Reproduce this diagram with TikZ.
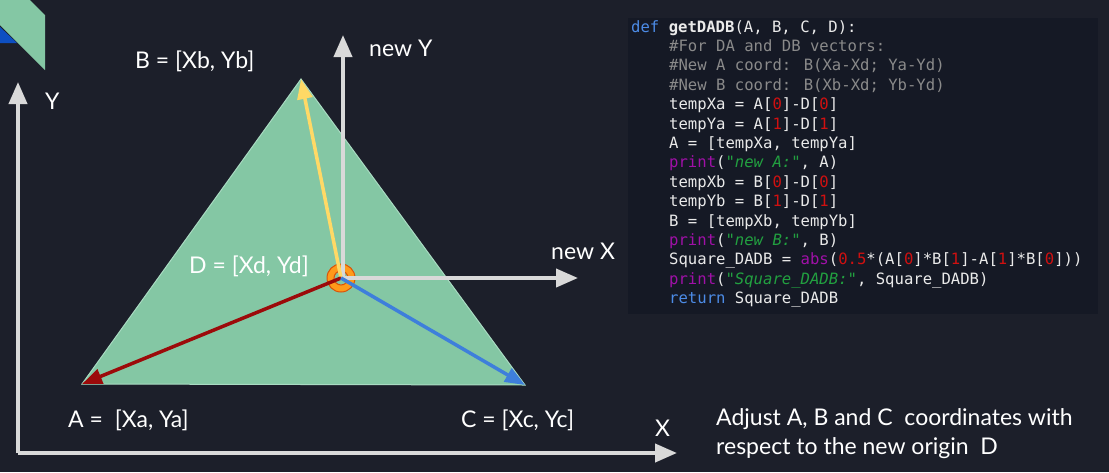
\documentclass[tikz,border=0pt]{standalone}
\usepackage{fontspec}
\setmainfont{Lato}
\newfontfamily\codefont{DejaVu Sans Mono}
\usetikzlibrary{arrows.meta}
\definecolor{bgc}{HTML}{1C1F2A}
\definecolor{codebg}{HTML}{151925}
\definecolor{tri}{HTML}{84C7A4}
\definecolor{triedge}{HTML}{A9DBC2}
\definecolor{axisc}{HTML}{D9D9D9}
\definecolor{redv}{HTML}{9C0A0A}
\definecolor{bluev}{HTML}{3E7FDB}
\definecolor{yelv}{HTML}{FFD966}
\definecolor{ringc}{HTML}{FF9A1A}
\definecolor{ringedge}{HTML}{D9530A}
\definecolor{decoblue}{HTML}{0D4FC2}
\definecolor{kwc}{HTML}{4C8BE6}
\definecolor{cmc}{HTML}{8A8A8A}
\definecolor{numc}{HTML}{D01010}
\definecolor{prc}{HTML}{A010A8}
\definecolor{strc}{HTML}{22A040}
\definecolor{codetxt}{HTML}{EAEAEA}
\newcommand\ckw[1]{\textcolor{kwc}{#1}}
\newcommand\ccm[1]{\textcolor{cmc}{#1}}
\newcommand\cnum[1]{\textcolor{numc}{#1}}
\newcommand\cpr[1]{\textcolor{prc}{#1}}
\newcommand\cstr[1]{\textcolor{strc}{\itshape #1}}
\tikzset{
  lbl/.style={text=white, font=\fontsize{23}{26}\selectfont, inner sep=0pt, anchor=west},
  codeline/.style={text=codetxt, font=\codefont\fontsize{15.6}{18}\selectfont, inner sep=0pt, anchor=base west},
  axisarrow/.style={draw=axisc, line width=4pt, -{Triangle[length=22pt,width=18pt]}},
  vecarrow/.style={line width=3.5pt, -{Triangle[length=20pt,width=15pt]}},
}
\begin{document}
\begin{tikzpicture}[x=1pt,y=-1pt]
\fill[bgc] (0,0) rectangle (1109,472);
\useasboundingbox (0,0) rectangle (1109,472);
% decoration top-left
\fill[decoblue] (0,27) -- (17,43) -- (0,43) -- cycle;
\fill[tri] (0,0) -- (30,0) -- (45,15) -- (45,70) -- (0,25) -- cycle;
% points
\coordinate (A) at (82,384);
\coordinate (B) at (301,79);
\coordinate (C) at (525,385);
\coordinate (D) at (341,278);
\coordinate (O) at (18,453);
\coordinate (Ytip) at (18,82);
\coordinate (Xtip) at (677,453);
\coordinate (nYtip) at (343,35);
\coordinate (nXtip) at (578,278);
\coordinate (nYbase) at (343,278);
% triangle
\filldraw[fill=tri, draw=triedge, line width=1pt] (A) -- (B) -- (C) -- cycle;
% axes
\draw[axisarrow] (O) -- (Ytip);
\draw[axisarrow] (O) -- (Xtip);
% ring at D
\filldraw[fill=ringc, draw=ringedge, line width=1pt] (D) circle (14);
\filldraw[fill=tri, draw=ringedge, line width=1pt] (D) circle (7);
% new axes
\draw[axisarrow] (nYbase) -- (nYtip);
\draw[axisarrow] (D) -- (nXtip);
% vectors
\draw[vecarrow, draw=yelv, fill=yelv] (D) -- (B);
\draw[vecarrow, draw=redv, fill=redv] (D) -- (A);
\draw[vecarrow, draw=bluev, fill=bluev] (D) -- (C);
% labels
\node[lbl] (lB) at (135,61) {B = [Xb, Yb]};
\node[lbl] (lY) at (45,101) {Y};
\node[lbl] (lnY) at (369,48) {new Y};
\node[lbl] (lD) at (189,266) {D = [Xd, Yd]};
\node[lbl] (lnX) at (551,251) {new X};
\node[lbl] (lA) at (68,420) {A =\ \ [Xa, Ya]};
\node[lbl] (lC) at (461,420) {C = [Xc, Yc]};
\node[lbl] (lX) at (655,428) {X};
\node[lbl] (t1) at (716,419) {Adjust A, B and C\ \ coordinates with};
\node[lbl] (t2) at (716,448) {respect to the new origin\ \ D};
% code box
\fill[codebg] (628,18) rectangle (1098,314);
\node[codeline] (c1) at (631,32) {\ckw{def} {\bfseries getDADB}(A, B, C, D):};
\node[codeline] (c2) at (669,51.4) {\ccm{\#For DA and DB vectors:}};
\node[codeline] (c3) at (669,70.8) {\ccm{\#New A coord: B(Xa-Xd; Ya-Yd)}};
\node[codeline] (c4) at (669,90.2) {\ccm{\#New B coord: B(Xb-Xd; Yb-Yd)}};
\node[codeline] (c5) at (669,109.6) {tempXa = A[\cnum{0}]-D[\cnum{0}]};
\node[codeline] (c6) at (669,129) {tempYa = A[\cnum{1}]-D[\cnum{1}]};
\node[codeline] (c7) at (669,148.4) {A = [tempXa, tempYa]};
\node[codeline] (c8) at (669,167.8) {\cpr{print}(\cstr{"new A:"}, A)};
\node[codeline] (c9) at (669,187.2) {tempXb = B[\cnum{0}]-D[\cnum{0}]};
\node[codeline] (c10) at (669,206.6) {tempYb = B[\cnum{1}]-D[\cnum{1}]};
\node[codeline] (c11) at (669,226) {B = [tempXb, tempYb]};
\node[codeline] (c12) at (669,245.4) {\cpr{print}(\cstr{"new B:"}, B)};
\node[codeline] (c13) at (669,264.8) {Square\_DADB = \cpr{abs}(\cnum{0.5}*(A[\cnum{0}]*B[\cnum{1}]-A[\cnum{1}]*B[\cnum{0}]))};
\node[codeline] (c14) at (669,284.2) {\cpr{print}(\cstr{"Square\_DADB:"}, Square\_DADB)};
\node[codeline] (c15) at (669,303.6) {\ckw{return} Square\_DADB};
\end{tikzpicture}
\end{document}
